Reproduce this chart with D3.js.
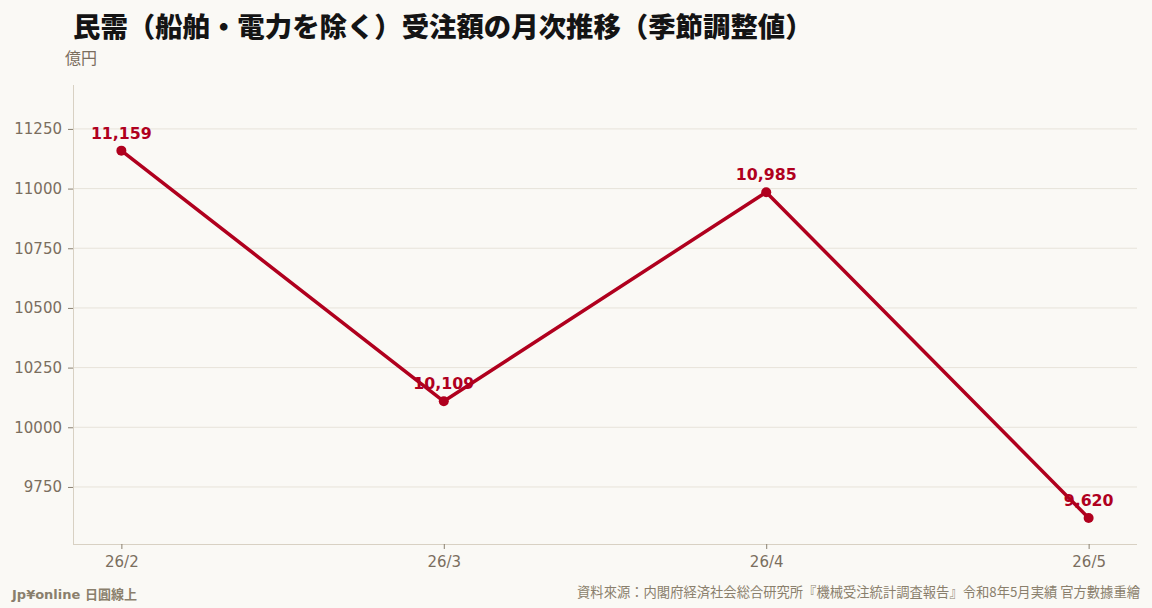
<!DOCTYPE html>
<html><head><meta charset="utf-8">
<script src="https://cdn.jsdelivr.net/npm/d3@7"></script>
<style>
html,body{margin:0;padding:0;background:#faf9f5;}
svg{display:block;}
</style></head>
<body>
<svg id="c" width="1152" height="608"></svg>
<script>
const categories = ["26/2", "26/3", "26/4", "26/5"];
const values = [11159, 10109, 10985, 9620];
const yTicks = [9750, 10000, 10250, 10500, 10750, 11000, 11250];
const title = "民需（船舶・電力を除く）受注額の月次推移（季節調整値）";
const unit = "億円";
const footLeft = "Jp¥online 日圓線上";
const footRight = "資料來源：内閣府経済社会総合研究所『機械受注統計調査報告』令和8年5月実績 官方數據重繪";

const W = 1152, H = 608;
const m = {left: 73, right: 1137, top: 85, bottom: 544};
const svg = d3.select("#c");
svg.append("rect").attr("width", W).attr("height", H).attr("fill", "#faf9f5");

const x = d3.scalePoint().domain(categories).range([m.left, m.right]).padding(0.15);
const y = d3.scaleLinear().domain([9511, 11434]).range([m.bottom, m.top]);

const cjk = "'Noto Sans CJK JP','Noto Sans',sans-serif";
const latin = "'DejaVu Sans','Noto Sans CJK JP',sans-serif";

// grid
svg.append("g").selectAll("line").data(yTicks).join("line")
  .attr("x1", m.left).attr("x2", m.right)
  .attr("y1", d => y(d)).attr("y2", d => y(d))
  .attr("stroke", "#e7e3da").attr("stroke-width", 1);

// axes
const yAxis = svg.append("g").attr("transform", `translate(${m.left},0)`)
  .call(d3.axisLeft(y).tickValues(yTicks).tickFormat(d3.format("d")).tickSize(5).tickPadding(6));
const xAxis = svg.append("g").attr("transform", `translate(0,${m.bottom})`)
  .call(d3.axisBottom(x).tickSize(5).tickPadding(7));
[yAxis, xAxis].forEach(g => {
  g.select(".domain").attr("stroke", "#d8d1c3");
  g.selectAll(".tick line").attr("stroke", "#8a8070");
  g.selectAll(".tick text").attr("fill", "#7a6e5e").attr("font-family", latin).attr("font-size", "15px");
});
yAxis.select(".domain").attr("d", `M0.5,${m.top}V${m.bottom}`);
xAxis.select(".domain").attr("d", `M${m.left},0.5H${m.right}`);

// line
const data = categories.map((c, i) => ({c, v: values[i]}));
svg.append("path").datum(data)
  .attr("d", d3.line().x(d => x(d.c)).y(d => y(d.v)))
  .attr("fill", "none").attr("stroke", "#b0001e").attr("stroke-width", 3.5)
  .attr("stroke-linejoin", "round");
svg.append("g").selectAll("circle").data(data).join("circle")
  .attr("cx", d => x(d.c)).attr("cy", d => y(d.v)).attr("r", 5)
  .attr("fill", "#b0001e");
svg.append("g").selectAll("text").data(data).join("text")
  .attr("x", d => x(d.c)).attr("y", d => y(d.v) - 12)
  .attr("text-anchor", "middle").attr("fill", "#b0001e")
  .attr("font-family", latin).attr("font-weight", "bold").attr("font-size", "15.8px")
  .text(d => d3.format(",")(d.v));

// title
svg.append("text").attr("x", 73).attr("y", 37)
  .attr("font-family", cjk).attr("font-weight", "900").attr("font-size", "27.4px")
  .attr("fill", "#141414").text(title);
svg.append("text").attr("x", 65).attr("y", 64)
  .attr("font-family", cjk).attr("font-size", "16px").attr("fill", "#7a6e5e").text(unit);

// footer
svg.append("text").attr("x", 12).attr("y", 599)
  .attr("font-family", latin).attr("font-weight", "bold").attr("font-size", "13px")
  .attr("fill", "#8a7f6c").text(footLeft);
svg.append("text").attr("x", 1140).attr("y", 597).attr("text-anchor", "end")
  .attr("font-family", cjk).attr("font-size", "13.3px")
  .attr("fill", "#8a7f6c").text(footRight);
</script>
</body></html>
